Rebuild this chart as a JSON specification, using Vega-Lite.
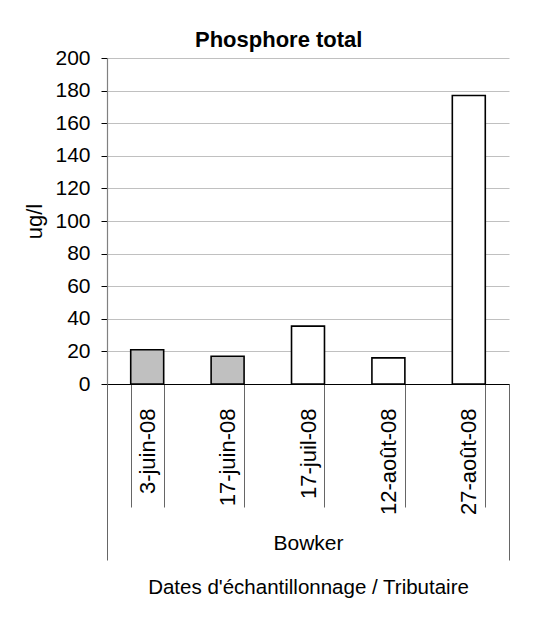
{
  "$schema": "https://vega.github.io/schema/vega-lite/v6.json",
  "width": 402,
  "height": 326,
  "autosize": {"type": "none"},
  "padding": {"left": 107, "top": 58, "right": 31, "bottom": 238},
  "background": "white",
  "config": {
    "font": "Liberation Sans, Arial, sans-serif",
    "view": {"stroke": null}
  },
  "title": {
    "text": "Phosphore total",
    "fontSize": 22,
    "fontWeight": "bold",
    "font": "Liberation Sans, Arial, sans-serif",
    "color": "black",
    "anchor": "middle",
    "frame": "bounds",
    "offset": -5,
    "dx": 12
  },
  "data": {
    "values": [
      {"date": "3-juin-08", "tributaire": "Bowker", "valeur": 21, "groupe": "A"},
      {"date": "17-juin-08", "tributaire": "Bowker", "valeur": 17, "groupe": "A"},
      {"date": "17-juil-08", "tributaire": "Bowker", "valeur": 35.5, "groupe": "B"},
      {"date": "12-août-08", "tributaire": "Bowker", "valeur": 16, "groupe": "B"},
      {"date": "27-août-08", "tributaire": "Bowker", "valeur": 177, "groupe": "B"}
    ]
  },
  "layer": [
    {
      "mark": {"type": "bar", "opacity": 0},
      "encoding": {
        "x": {
          "field": "tributaire",
          "type": "nominal",
          "scale": {"paddingInner": 0, "paddingOuter": 0},
          "axis": {
            "orient": "bottom",
            "title": "Dates d'échantillonnage / Tributaire",
            "titleFontSize": 20.5,
            "titleFontWeight": "normal",
            "titleColor": "black",
            "titlePadding": 17,
            "labelAngle": 0,
            "labelFontSize": 21,
            "labelColor": "black",
            "labelPadding": -28,
            "tickBand": "extent",
            "tickSize": 176,
            "tickColor": "#666666",
            "tickWidth": 1,
            "domain": false,
            "grid": false
          }
        }
      }
    },
    {
      "mark": {"type": "bar", "stroke": "black", "strokeWidth": 1.6},
      "encoding": {
        "x": {
          "field": "date",
          "type": "nominal",
          "sort": null,
          "scale": {"paddingInner": 0.59, "paddingOuter": 0.295},
          "axis": {
            "orient": "bottom",
            "title": null,
            "labelAngle": -90,
            "labelFontSize": 22,
            "labelColor": "black",
            "labelPadding": -99,
            "tickBand": "extent",
            "tickSize": 123,
            "tickColor": "#666666",
            "tickWidth": 1,
            "domain": true,
            "domainColor": "black",
            "domainWidth": 1.2,
            "grid": false
          }
        },
        "y": {
          "field": "valeur",
          "type": "quantitative",
          "scale": {"domain": [0, 200], "nice": false},
          "axis": {
            "title": "ug/l",
            "titleFontSize": 22,
            "titleFontWeight": "normal",
            "titleColor": "black",
            "titlePadding": 8,
            "values": [0, 20, 40, 60, 80, 100, 120, 140, 160, 180, 200],
            "labelFontSize": 21,
            "labelColor": "black",
            "labelPadding": 11,
            "tickSize": 6,
            "tickColor": "black",
            "domainColor": "#808080",
            "domainWidth": 1.2,
            "grid": true,
            "gridColor": "#c0c0c0",
            "gridWidth": 1
          }
        },
        "fill": {
          "field": "groupe",
          "type": "nominal",
          "scale": {"domain": ["A", "B"], "range": ["#c0c0c0", "#ffffff"]},
          "legend": null
        }
      }
    }
  ],
  "resolve": {"scale": {"x": "independent"}, "axis": {"x": "independent"}}
}
